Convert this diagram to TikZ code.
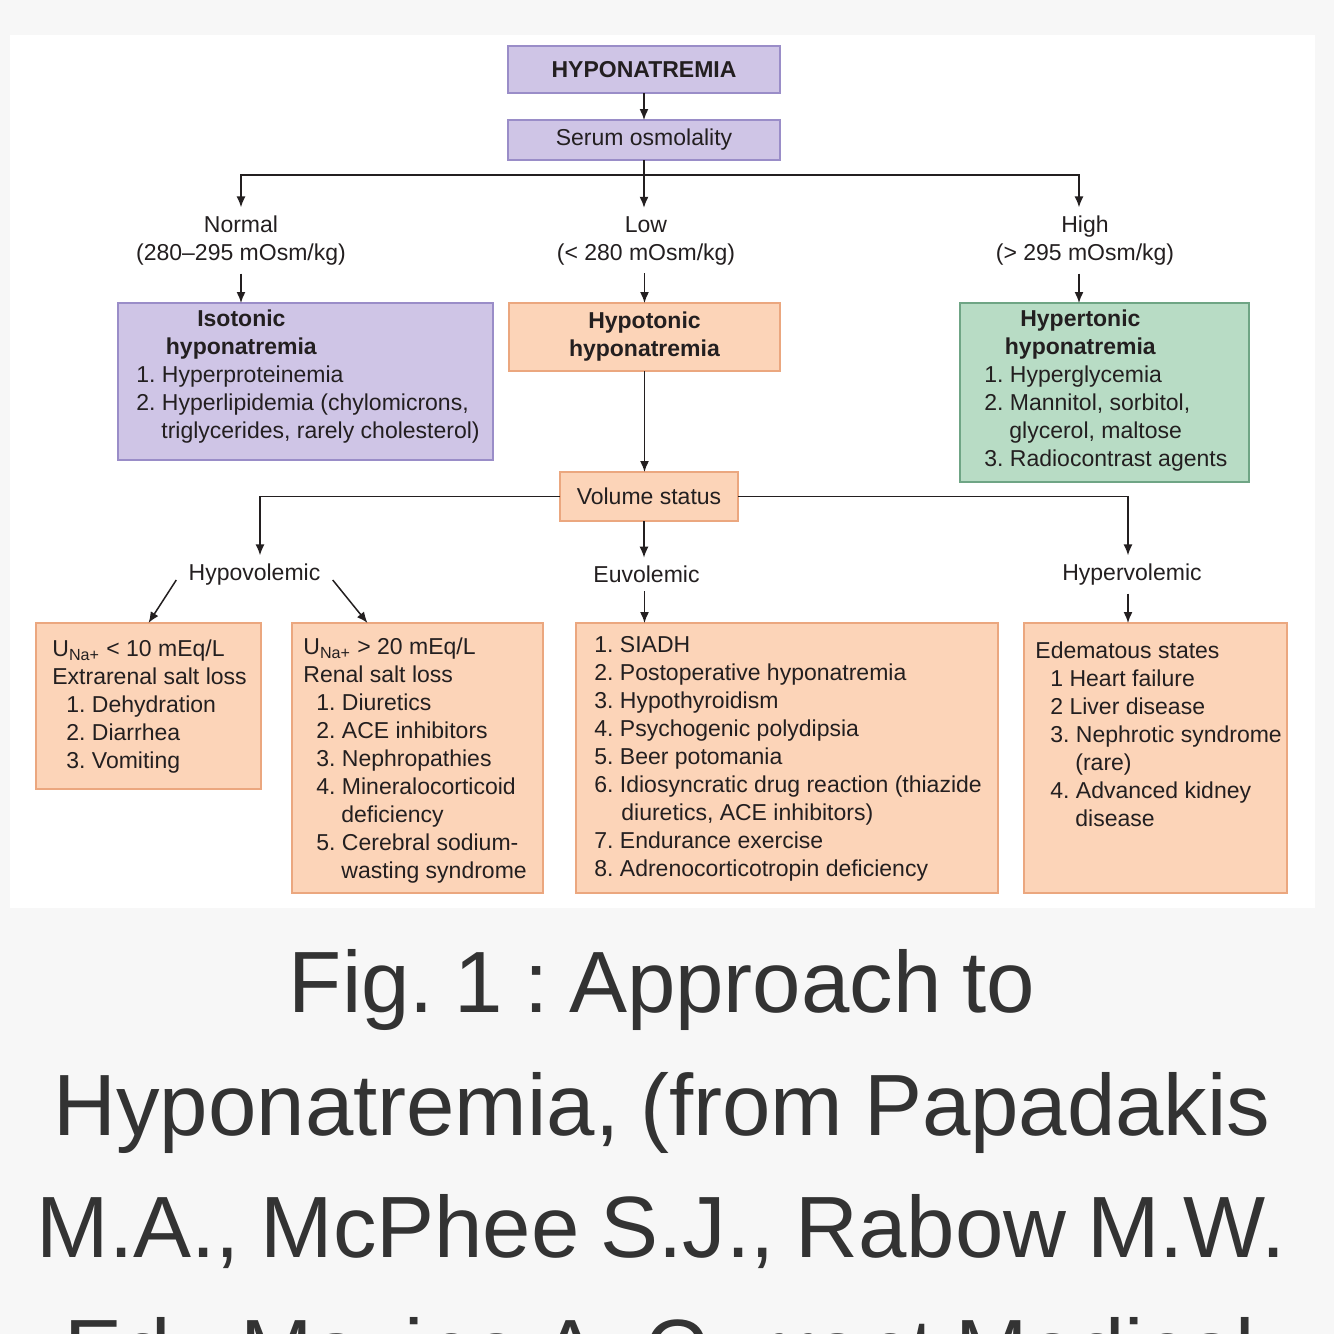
\documentclass[tikz,border=0pt]{standalone}
\usepackage{fontspec}
\setmainfont{Liberation Sans}
\usetikzlibrary{arrows.meta}

\definecolor{ink}{HTML}{231F20}
\definecolor{lilacfill}{HTML}{CFC5E6}
\definecolor{lilacline}{HTML}{9A8DC8}
\definecolor{peachfill}{HTML}{FCD4B8}
\definecolor{peachline}{HTML}{EBA77F}
\definecolor{mintfill}{HTML}{B8DCC5}
\definecolor{mintline}{HTML}{6FA585}
\definecolor{pagegrey}{HTML}{F7F7F7}
\definecolor{captiongrey}{HTML}{333333}

\newcommand{\chartfont}{\fontsize{11.5pt}{14pt}\selectfont\frenchspacing}
\newcommand{\capfont}{\fontsize{43.5pt}{61pt}\selectfont\frenchspacing\spaceskip=0.24em plus 0.1em}

\begin{document}
\begin{tikzpicture}[x=0.5pt,y=-0.5pt]
		\tikzstyle {plain box} = [rectangle, line width=0.75pt, inner sep=0pt, outer sep=0pt, font=\chartfont, text=ink]
		\tikzstyle {lilac box} = [plain box, draw=lilacline, fill=lilacfill]
		\tikzstyle {peach box} = [plain box, draw=peachline, fill=peachfill]
		\tikzstyle {mint box} = [plain box, draw=mintline, fill=mintfill]
		\tikzstyle {box text} = [anchor=north west, inner sep=0pt, align=left, font=\chartfont, text=ink, execute at begin node=\strut]
		\tikzstyle {branch label} = [inner xsep=0pt, inner ysep=4pt, align=center, font=\chartfont, text=ink]
		\tikzstyle {flow line} = [line width=0.75pt, draw=ink, -{Latex[length=5.5pt,width=4.5pt]}]
		\tikzstyle {bar line} = [line width=0.75pt, draw=ink]
		\tikzstyle {caption} = [anchor=base, inner sep=0pt, font=\capfont, text=captiongrey]

		\useasboundingbox (0,0) rectangle (1334,1334);
		\fill[pagegrey] (0,0) rectangle (1334,1334);
		\fill[white] (10,35) rectangle (1315,908);

		% first level
		\node[lilac box, minimum width=136pt, minimum height=23.5pt] (hypo) at (644,69.5) {\textbf{HYPONATREMIA}};
		\node[lilac box, minimum width=136pt, minimum height=20pt] (serum) at (644,140) {Serum osmolality};
		\coordinate (split) at (644,175);

		\node[branch label] (normal) at (241,240.5) {Normal\\(280--295 mOsm/kg)};
		\node[branch label] (low) at (646,240.5) {Low\\(< 280 mOsm/kg)};
		\node[branch label] (high) at (1085,240.5) {High\\(> 295 mOsm/kg)};

		\node[lilac box, minimum width=187.5pt, minimum height=78.5pt] (iso) at (305.5,381.5) {};
		\node[box text] (isotext) at (136,309.4) {\makebox[105pt]{\textbf{Isotonic}}\\
			\makebox[105pt]{\textbf{hyponatremia}}\\
			1. Hyperproteinemia\\
			2. Hyperlipidemia (chylomicrons,\\
			\hspace*{12.5pt}triglycerides, rarely cholesterol)};

		\node[peach box, align=center, minimum width=135.5pt, minimum height=34pt] (hypot) at (644.5,337) {\textbf{Hypotonic}\\\textbf{hyponatremia}};

		\node[mint box, minimum width=144.5pt, minimum height=89.5pt] (hyper) at (1104.5,392.5) {};
		\node[box text] (hypertext) at (984,309.4) {\makebox[96pt]{\textbf{Hypertonic}}\\
			\makebox[96pt]{\textbf{hyponatremia}}\\
			1. Hyperglycemia\\
			2. Mannitol, sorbitol,\\
			\hspace*{12.5pt}glycerol, maltose\\
			3. Radiocontrast agents};

		% volume status
		\node[peach box, minimum width=89pt, minimum height=24.5pt] (vol) at (649,496.5) {Volume status};

		\node[branch label] (hypovol) at (254.5,574.5) {Hypovolemic};
		\node[branch label] (euvol) at (646.5,574.5) {Euvolemic};
		\node[branch label] (hypervol) at (1132,574.5) {Hypervolemic};

		\node[peach box, minimum width=112.5pt, minimum height=83pt] (extra) at (148.5,706) {};
		\node[box text] (extratext) at (52,639.4) {U\textsubscript{Na+} < 10 mEq/L\\
			Extrarenal salt loss\\
			\hspace*{7pt}1. Dehydration\\
			\hspace*{7pt}2. Diarrhea\\
			\hspace*{7pt}3. Vomiting};

		\node[peach box, minimum width=125.5pt, minimum height=135pt] (renal) at (417.5,758) {};
		\node[box text] (renaltext) at (303,637.4) {U\textsubscript{Na+} > 20 mEq/L\\
			Renal salt loss\\
			\hspace*{6.5pt}1. Diuretics\\
			\hspace*{6.5pt}2. ACE inhibitors\\
			\hspace*{6.5pt}3. Nephropathies\\
			\hspace*{6.5pt}4. Mineralocorticoid\\
			\hspace*{19pt}deficiency\\
			\hspace*{6.5pt}5. Cerebral sodium-\\
			\hspace*{19pt}wasting syndrome};

		\node[peach box, minimum width=211pt, minimum height=135pt] (euvo) at (787,758) {};
		\node[box text] (euvotext) at (594,636.4) {1. SIADH\\
			2. Postoperative hyponatremia\\
			3. Hypothyroidism\\
			4. Psychogenic polydipsia\\
			5. Beer potomania\\
			6. Idiosyncratic drug reaction (thiazide\\
			\hspace*{13.5pt}diuretics, ACE inhibitors)\\
			7. Endurance exercise\\
			8. Adrenocorticotropin deficiency};

		\node[peach box, minimum width=131.5pt, minimum height=135pt] (edema) at (1155.5,758) {};
		\node[box text] (edematext) at (1035,641.4) {Edematous states\\
			\hspace*{7.5pt}1 Heart failure\\
			\hspace*{7.5pt}2 Liver disease\\
			\hspace*{7.5pt}3. Nephrotic syndrome\\
			\hspace*{20pt}(rare)\\
			\hspace*{7.5pt}4. Advanced kidney\\
			\hspace*{20pt}disease};

		% connectors
		\draw[flow line] (hypo) -- (serum);
		\draw[bar line] (serum.south) -- (split);
		\draw[flow line] (split) -| (normal.north);
		\draw[flow line] (split) -- (split |- low.north);
		\draw[flow line] (split) -| ([xshift=-3pt]high.north);
		\draw[flow line] (normal.south) -- (normal.south |- iso.north);
		\draw[flow line] (hypot.south |- low.south) -- (hypot.north);
		\draw[flow line] ([xshift=-3pt]high.south) -- ([xshift=-3pt]high.south |- hyper.north);
		\draw[flow line] (hypot.south) -- (hypot.south |- vol.north);

		\draw[flow line] (vol.west) -| ([xshift=2.75pt]hypovol.north);
		\draw[flow line] ([xshift=-2.5pt]vol.south) -- ([xshift=-2.5pt]vol.south |- euvol.north);
		\draw[flow line] (vol.east) -| ([xshift=-2pt]hypervol.north);

		\draw[flow line] ([xshift=-6pt,yshift=-2.75pt]hypovol.west) -- (extra.north);
		\draw[flow line] ([xshift=6pt,yshift=-2.75pt]hypovol.east) -- ([xshift=-25pt]renal.north);
		\draw[flow line] ([xshift=-1pt]euvol.south) -- ([xshift=-1pt]euvol.south |- euvo.north);
		\draw[flow line] ([xshift=-2pt]hypervol.south) -- ([xshift=-2pt]hypervol.south |- edema.north);

		% caption
		\begin{scope}
			\clip (0,0) rectangle (1334,1334);
			\node[caption] (cap1) at (662,1012) {Fig. 1 : Approach to};
			\node[caption] (cap2) at (662,1135) {Hyponatremia, (from Papadakis};
			\node[caption] (cap3) at (661,1257) {M.A., McPhee S.J., Rabow M.W.};
			\node[caption] (cap4) at (660,1380) {Ed., Maxine A. Current Medical};
		\end{scope}
	\end{tikzpicture}
\end{document}
